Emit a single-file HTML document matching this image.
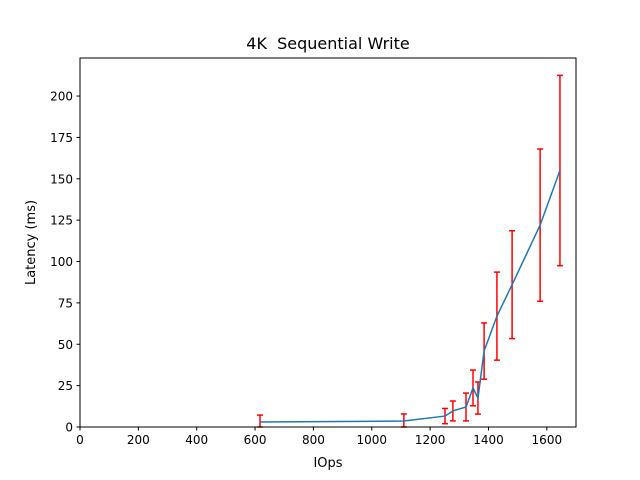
<!DOCTYPE html>
<html><head><meta charset="utf-8"><style>
body{margin:0;background:#fff;}
svg{display:block;font-family:"DejaVu Sans","Liberation Sans",sans-serif;}
</style></head><body>
<svg id="chart" width="640" height="480">
<rect width="640" height="480" fill="#fff"/>
<text x="328" y="49" font-size="16" text-anchor="middle" style="white-space:pre">4K  Sequential Write</text>
<g id="marks"></g>
<rect x="80" y="58" width="496" height="369" fill="none" stroke="#000" stroke-width="1"/>
<g id="xticks" font-size="12"></g>
<g id="yticks" font-size="12"></g>
<text x="328" y="467" font-size="13" text-anchor="middle">IOps</text>
<text transform="translate(35,242.5) rotate(-90)" font-size="13" text-anchor="middle">Latency (ms)</text>
</svg>
<script>
const iops = [617,1110,1251,1278,1323,1347,1364,1385,1429,1481,1577,1645];
const latency = [3.0,3.6,6.6,9.7,12.1,23.6,17.5,45.9,67,86,122,155];
const latencyErr = [4.2,4.3,4.6,6,8.4,10.8,9.7,17,26.6,32.6,46,57.5];
const xTicks = [0,200,400,600,800,1000,1200,1400,1600];
const yTicks = [0,25,50,75,100,125,150,175,200];
const NS="http://www.w3.org/2000/svg";
const X0=80,X1=576,Y0=427,Y1=58,XMAX=1700,YMAX=223;
const sx=v=>X0+v/XMAX*(X1-X0);
const sy=v=>Y0-v/YMAX*(Y0-Y1);
function mk(t,a,p){const e=document.createElementNS(NS,t);for(const k in a)e.setAttribute(k,a[k]);p.appendChild(e);return e;}
const marks=document.getElementById('marks');
const xg=document.getElementById('xticks'),yg=document.getElementById('yticks');
xTicks.forEach(v=>{
  const l=mk('line',{x1:sx(v),x2:sx(v),y1:Y0,y2:Y0+3.5,stroke:'#000'},xg);
  
  
  const t=mk('text',{x:sx(v),y:Y0+17,'text-anchor':'middle'},xg);t.textContent=v;
  
  
});
yTicks.forEach(v=>{
  const l=mk('line',{x1:X0-3.5,x2:X0,y1:sy(v),y2:sy(v),stroke:'#000'},yg);
  
  
  const t=mk('text',{x:X0-7,y:sy(v)+4.5,'text-anchor':'end'},yg);t.textContent=v;
  
  
});
iops.forEach((x,i)=>{
  const g=mk('g',{stroke:'#ff0000','stroke-width':1.5},marks);
  
  
  const px=sx(x),t=sy(latency[i]+latencyErr[i]),b=sy(Math.max(0,latency[i]-latencyErr[i]));
  mk('line',{x1:px,x2:px,y1:t,y2:b},g);
  mk('line',{x1:px-3,x2:px+3,y1:t,y2:t},g);
  mk('line',{x1:px-3,x2:px+3,y1:b,y2:b},g);
});
const path=mk('polyline',{points:iops.map((x,i)=>sx(x)+','+sy(latency[i])).join(' '),fill:'none',stroke:'#1f77b4','stroke-width':1.5},marks);


</script>
</body></html>
